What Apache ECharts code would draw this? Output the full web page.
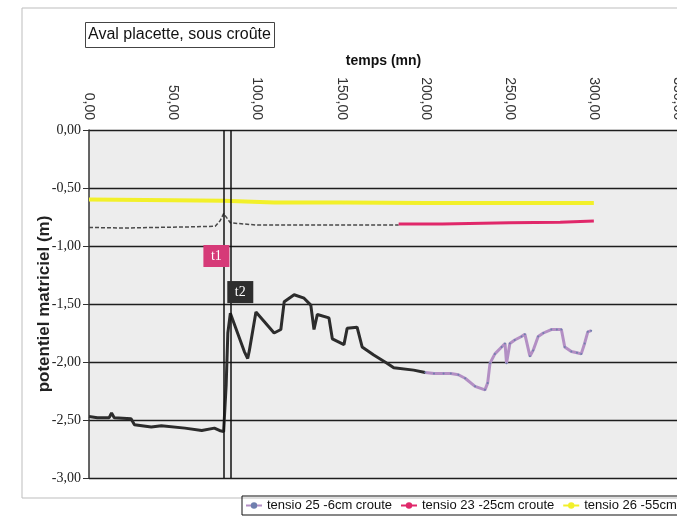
<!DOCTYPE html>
<html>
<head>
<meta charset="utf-8">
<script src="https://cdn.jsdelivr.net/npm/echarts@6/dist/echarts.min.js"></script>
<style>
  html, body { margin: 0; padding: 0; background: #fff; }
  #chart { width: 677px; height: 524px; }
</style>
</head>
<body>
<div id="chart"></div>
<script>
  // temps (mn) / potentiel (m)
  var t26 = [0, 50, 80, 110, 150, 200, 250, 300];
  var v26 = [-0.60, -0.605, -0.61, -0.625, -0.625, -0.63, -0.63, -0.63];

  // tensio 23 : partie sombre (0-184) puis rouge (184-300)
  var t23a = [0, 20, 40, 60, 75, 78, 80, 82, 84, 100, 130, 160, 184];
  var v23a = [-0.84, -0.845, -0.84, -0.835, -0.83, -0.78, -0.72, -0.76, -0.80, -0.82, -0.82, -0.82, -0.82];
  var t23b = [184, 210, 250, 280, 300];
  var v23b = [-0.81, -0.81, -0.80, -0.795, -0.785];

  // tensio 25 : partie noire (0-199) puis rose (199-299)
  var t25a = [0, 5, 12, 13.4, 15, 25, 27, 37, 43, 57, 67, 74.5, 77.5, 80, 81.5, 82.5, 84, 86,
    92.3, 94.3, 95.3, 99.2, 104.1, 110, 114, 116, 121.9, 127.8, 131.8, 133.7, 135.7, 142.6,
    144.6, 151.5, 153.4, 159.3, 162.3, 169.2, 177.1, 181.1, 192.9, 199.8];
  var v25a = [-2.47, -2.48, -2.48, -2.44, -2.48, -2.49, -2.54, -2.56, -2.55, -2.57, -2.59, -2.57, -2.59, -2.6, -2.2, -1.75, -1.58, -1.66,
    -1.91, -1.97, -1.90, -1.57, -1.65, -1.75, -1.72, -1.48, -1.42, -1.45, -1.51, -1.72, -1.59, -1.62,
    -1.80, -1.85, -1.71, -1.70, -1.87, -1.94, -2.01, -2.05, -2.07, -2.09];
  var t25b = [199.8, 205, 210.7, 215, 219.5, 223.5, 229.4, 235.3, 236.9, 238.3, 241.2, 245.2, 247.2, 248.1,
    250.1, 253, 257, 259, 262, 263.9, 266.9, 270, 274.7, 278, 280.7, 282.7, 286.6, 290, 292.5, 294.5, 296.4, 298.4];
  var v25b = [-2.09, -2.10, -2.10, -2.10, -2.11, -2.14, -2.21, -2.24, -2.18, -2.01, -1.93, -1.87, -1.84, -2.01,
    -1.84, -1.81, -1.78, -1.76, -1.95, -1.90, -1.78, -1.75, -1.72, -1.72, -1.72, -1.87, -1.91, -1.92, -1.93, -1.84, -1.74, -1.73];

  // repères t1 / t2
  var markTimes = [80, 84];
  var markLabels = ['t1', 't2'];
  var markPos = [[75.7, -1.086], [89.9, -1.397]];

  var xTicks = [0, 50, 100, 150, 200, 250, 300, 350];
  var yTicks = [0, -0.5, -1, -1.5, -2, -2.5, -3];

  function pairs(t, v) {
    var out = [];
    for (var i = 0; i < t.length; i++) out.push([t[i], v[i]]);
    return out;
  }
  function fr(v) {
    return v.toFixed(2).replace('.', ',');
  }

  var sans = "'Liberation Sans', Arial, sans-serif";

  var myChart = echarts.init(document.getElementById('chart'));
  myChart.setOption({
    animation: false,
    backgroundColor: '#fff',
    graphic: [{
      type: 'rect',
      shape: {x: 22, y: 8, width: 700, height: 490},
      style: {fill: 'none', stroke: '#bdbdbd', lineWidth: 1},
      z: -1
    }],
    title: {
      text: 'Aval placette, sous croûte',
      left: 85,
      top: 22,
      padding: [5, 4, 5, 3],
      borderColor: '#444',
      borderWidth: 1,
      textStyle: {fontFamily: sans, fontSize: 16, fontWeight: 'normal', color: '#111'}
    },
    legend: {
      data: ['tensio 25 -6cm croute', 'tensio 23 -25cm croute', 'tensio 26 -55cm croute'],
      left: 242,
      top: 496,
      width: 900,
      padding: [3, 6, 3, 3],
      borderColor: '#111',
      borderWidth: 1,
      itemGap: 8,
      itemWidth: 16,
      itemHeight: 8,
      textStyle: {fontFamily: sans, fontSize: 13, color: '#111'}
    },
    grid: {
      left: 89,
      top: 130,
      width: 589,
      height: 348,
      outerBoundsMode: 'none',
      show: true,
      backgroundColor: '#ededed',
      borderWidth: 0
    },
    xAxis: {
      type: 'value',
      position: 'top',
      min: xTicks[0],
      max: xTicks[xTicks.length - 1],
      interval: 50,
      name: 'temps (mn)',
      nameLocation: 'middle',
      nameGap: 62,
      nameTextStyle: {fontFamily: sans, fontSize: 14, fontWeight: 'bold', color: '#111'},
      axisLine: {show: false},
      axisTick: {show: false},
      splitLine: {show: false},
      axisLabel: {
        rotate: -90,
        margin: 10,
        fontFamily: sans,
        fontSize: 14,
        color: '#333',
        formatter: fr
      }
    },
    yAxis: {
      type: 'value',
      min: yTicks[yTicks.length - 1],
      max: yTicks[0],
      interval: 0.5,
      name: 'potentiel matriciel (m)',
      nameLocation: 'middle',
      nameGap: 36,
      nameMoveOverlap: false,
      nameTextStyle: {fontFamily: sans, fontSize: 17, fontWeight: 'bold', color: '#222'},
      axisLine: {show: true, lineStyle: {color: '#333', width: 1.5}},
      axisTick: {show: true, length: 6, lineStyle: {color: '#333'}},
      splitLine: {show: true, lineStyle: {color: '#1e1e1e', width: 1.3}},
      axisLabel: {
        margin: 8,
        fontFamily: "'Liberation Serif', 'Times New Roman', serif",
        fontSize: 14,
        color: '#222',
        formatter: fr
      }
    },
    series: [
      {
        name: 'tensio 26 -55cm croute',
        type: 'line',
        data: pairs(t26, v26),
        symbol: 'none',
        itemStyle: {color: '#f2f02a'},
        lineStyle: {color: '#f2f02a', width: 4},
        z: 3
      },
      {
        name: 'enregistrement -25cm',
        type: 'line',
        data: pairs(t23a, v23a),
        symbol: 'none',
        lineStyle: {color: '#4a4a4a', width: 1.5, type: [4, 2]},
        z: 3
      },
      {
        name: 'tensio 23 -25cm croute',
        type: 'line',
        data: pairs(t23b, v23b),
        symbol: 'circle',
        symbolSize: 3,
        showSymbol: false,
        itemStyle: {color: '#e0286a'},
        lineStyle: {color: '#e0286a', width: 3},
        z: 3
      },
      {
        name: 'enregistrement -6cm',
        type: 'line',
        data: pairs(t25a, v25a),
        symbol: 'none',
        lineStyle: {color: '#2c2c2c', width: 3},
        z: 4,
        markLine: {
          silent: true,
          symbol: 'none',
          label: {show: false},
          lineStyle: {color: '#111', width: 1.5, type: 'solid'},
          data: markTimes.map(function (t) { return {xAxis: t}; })
        },
        markPoint: {
          symbol: 'rect',
          symbolSize: [26, 22],
          label: {
            show: true,
            color: '#fff',
            fontFamily: "'Liberation Serif', serif",
            fontSize: 14,
            formatter: function (p) { return p.name; }
          },
          data: [
            {name: markLabels[0], coord: markPos[0], itemStyle: {color: '#d63a78'}},
            {name: markLabels[1], coord: markPos[1], itemStyle: {color: '#2e2e2e'}}
          ]
        }
      },
      {
        name: 'tensio 25 -6cm croute',
        type: 'line',
        data: pairs(t25b, v25b),
        symbol: 'circle',
        symbolSize: 2,
        itemStyle: {color: '#6f7fae'},
        lineStyle: {color: '#b38fc4', width: 3},
        z: 4
      }
    ]
  });
</script>
</body>
</html>
